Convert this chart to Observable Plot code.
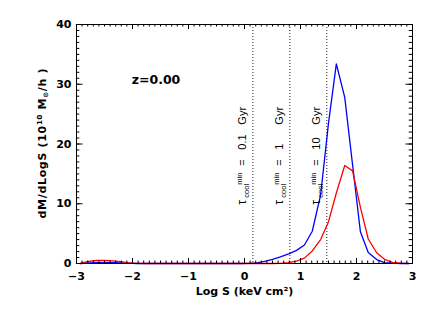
<!DOCTYPE html>
<html><head><meta charset="utf-8">
<script src="https://cdn.jsdelivr.net/npm/d3@7"></script>
<script src="https://cdn.jsdelivr.net/npm/@observablehq/plot@0.6"></script>
<style>body{margin:0;background:#fff}</style>
</head><body><div id="chart"></div>
<script>
// bin centres of Log S (keV cm^2)
const logS = [-2.93,-2.79,-2.64,-2.50,-2.36,-2.21,-2.07,-1.93,-1.79,-1.64,-1.50,-1.36,-1.21,-1.07,
  -0.93,-0.79,-0.64,-0.50,-0.36,-0.21,-0.07,0.07,0.21,0.36,0.50,0.64,0.79,0.93,1.07,1.21,1.36,1.50,
  1.64,1.79,1.93,2.07,2.21,2.36,2.50,2.64,2.79,2.93];
const blueMass = [0,0.1,0.15,0.15,0.15,0.1,0.05,0,0,0,0,0,0,0,
  0,0,0,0,0,0,0,0.02,0.12,0.35,0.7,1.1,1.6,2.2,3.1,5.4,11.5,23.5,
  33.4,27.8,16.5,5.3,1.85,0.65,0.15,0.05,0,0];
const redMass = [0,0.35,0.5,0.5,0.45,0.3,0.1,0.03,0,0,0,0,0,0,
  0,0,0,0,0,0,0,0,0,0,0,0.02,0.15,0.4,0.9,2.1,4.0,7.0,
  11.8,16.4,15.5,9.4,4.1,1.8,0.7,0.2,0.05,0];
const xTicks = [-3,-2,-1,0,1,2,3];
const yTicks = [0,10,20,30,40];
const tcoolLogS = [0.15, 0.81, 1.47];
const tcoolValues = ["0.1","1","10"];
const redshiftText = ["z=0.00"];
const redshiftPos = [{x:-1.58, y:30.7}];

const W = 435, H = 311;
const mL = 76, mR = 23, mT = 24, mB = 48;
const innerW = W - mL - mR, innerH = H - mT - mB;

const rows = logS.map((s,i)=>({logS:s, blue:blueMass[i], red:redMass[i]}));
const xMinor = d3.range(-30, 31).map(d=>d/10);
const yMinor = d3.range(0, 41);
const labelY = 9.85; // data y where the rotated labels start
const labels = tcoolLogS.map((x,i)=>({x, v: tcoolValues[i]}));
const tfont = "Liberation Sans, Arial, sans-serif";
const piece = (text, o) => Plot.text(labels, {x:"x", y:()=>labelY, text, rotate:-90, textAnchor:"start",
  fontFamily:tfont, fontWeight:"normal", fill:"black", ...o});

const plot = Plot.plot({
  width: W, height: H,
  marginLeft: mL, marginRight: mR, marginTop: mT, marginBottom: mB,
  style: {fontFamily:"DejaVu Sans, sans-serif", fontSize:"11px", fontWeight:"bold", background:"white", color:"black"},
  x: {domain:[-3,3], ticks:xTicks, tickFormat:d3.format("d"), tickSize:0, tickPadding:9, label:null},
  y: {domain:[0,40], ticks:yTicks, tickFormat:d3.format("d"), tickSize:0, tickPadding:5, label:null},
  marks: [
    Plot.ruleX(tcoolLogS, {stroke:"#222", strokeDasharray:"1,2", strokeWidth:1}),
    Plot.line(rows, {x:"logS", y:"blue", stroke:"#0000ff", strokeWidth:1.3}),
    Plot.line(rows, {x:"logS", y:"red", stroke:"#ff0000", strokeWidth:1.3}),
    // ticks (inward, all four sides)
    Plot.ruleX(xTicks, {insetTop: innerH - 5, stroke:"black"}),
    Plot.ruleX(xTicks, {insetBottom: innerH - 5, stroke:"black"}),
    Plot.ruleX(xMinor, {insetTop: innerH - 2.5, stroke:"black"}),
    Plot.ruleX(xMinor, {insetBottom: innerH - 2.5, stroke:"black"}),
    Plot.ruleY(yTicks, {insetRight: innerW - 6.5, stroke:"black"}),
    Plot.ruleY(yTicks, {insetLeft: innerW - 6.5, stroke:"black"}),
    Plot.ruleY(yMinor, {insetRight: innerW - 3.3, stroke:"black"}),
    Plot.ruleY(yMinor, {insetLeft: innerW - 3.3, stroke:"black"}),
    Plot.frame({stroke:"black"}),
    Plot.text(redshiftPos, {x:"x", y:"y", text:()=>redshiftText[0], fontSize:12.5, fontWeight:"bold", fill:"black"}),
    // tau_cool^min labels
    piece(()=>"τ", {fontSize:12, dx:-10.5, dy:0}),
    piece(()=>"cool", {fontSize:7.5, dx:-6.5, dy:-7}),
    piece(()=>"min", {fontSize:7.5, dx:-13.5, dy:-20}),
    piece(()=>"=", {fontSize:11, dx:-10.5, dy:-39}),
    piece(d=>d.v, {fontSize:11, dx:-10.5, dy:-55}),
    piece(()=>"Gyr", {fontSize:11, dx:-10.5, dy:-80}),
    Plot.text(["Log S (keV cm²)"], {frameAnchor:"bottom", dy:31, fontSize:11, fontWeight:"bold", fill:"black"})
  ]
});
document.getElementById("chart").appendChild(plot);

// rotated y-axis title with super/subscripts
const svg = d3.select(plot);
const yt = svg.append("text")
  .attr("transform", "translate(42.5,143.5) rotate(-90)")
  .attr("text-anchor", "middle")
  .attr("dy", "0.35em")
  .attr("font-family", "DejaVu Sans, sans-serif")
  .attr("font-weight", "bold")
  .attr("font-size", 11)
  .attr("textLength", 150)
  .attr("lengthAdjust", "spacing")
  .attr("fill", "black");
yt.append("tspan").text("dM/dLogS (10");
yt.append("tspan").attr("font-size", 7).attr("dy", -4).text("10");
yt.append("tspan").attr("dy", 4).text(" M");
yt.append("tspan").attr("font-size", 7).attr("dy", 2).text("⊙");
yt.append("tspan").attr("dy", -2).text("/h )");
</script>
</body></html>
